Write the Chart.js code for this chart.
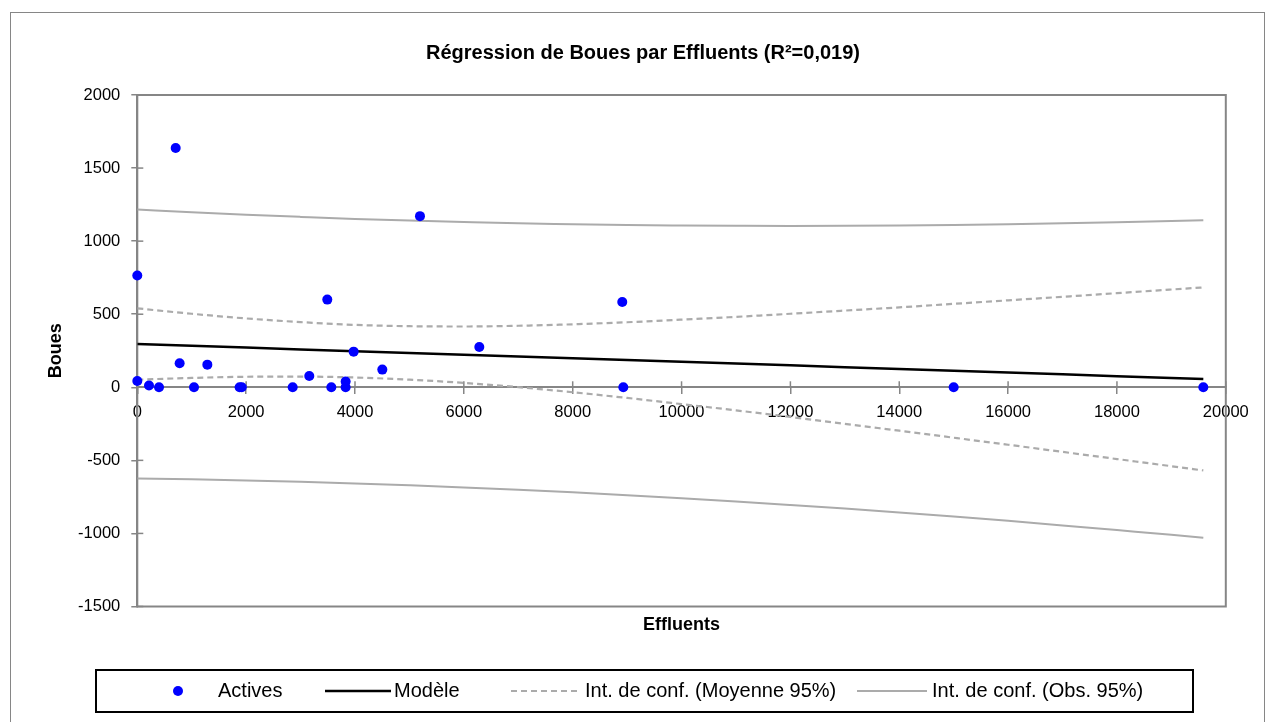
<!DOCTYPE html>
<html lang="fr">
<head>
<meta charset="utf-8">
<title>Régression de Boues par Effluents</title>
<script src="https://cdn.jsdelivr.net/npm/chart.js@4.4.1/dist/chart.umd.min.js"></script>
<style>
  html, body { margin: 0; padding: 0; background: #ffffff; }
  #wrap { position: relative; width: 1269px; height: 722px; }
</style>
</head>
<body>
<div id="wrap"><canvas id="chart"></canvas></div>
<script>
// Observations (Effluents, Boues)
const effluents = [0, 0, 215, 399, 705, 778, 1042, 1287, 1880, 1920, 2855, 3160, 3491, 3565, 3828, 3828, 3975, 4502, 5194, 6284, 8911, 8930, 15000, 19587];
const boues     = [765, 43, 12, 0, 1637, 164, 0, 155, 0, 0, 0, 77, 600, 0, 39, 0, 244, 121, 1171, 276, 584, 0, 0, 0];

// Fitted model and confidence bands, sampled along Effluents
const curveX  = [0, 1000, 2000, 3000, 4000, 5000, 6000, 7000, 8000, 9000, 10000, 11000, 12000, 13000, 14000, 15000, 16000, 17000, 18000, 19000, 19587];
const modele  = [296, 284, 272, 259, 247, 235, 223, 211, 198, 186, 174, 162, 150, 137, 125, 113, 101, 89, 76, 64, 57];
const moyHaut = [540, 503, 471, 446, 427, 418, 416, 421, 431, 445, 463, 482, 503, 525, 547, 571, 595, 619, 644, 669, 683];
const moyBas  = [52, 64, 72, 73, 67, 52, 30, 1, -34, -73, -115, -158, -203, -250, -297, -345, -393, -442, -491, -540, -569];
const obsHaut = [1216, 1198, 1181, 1166, 1152, 1141, 1131, 1122, 1116, 1110, 1107, 1105, 1104, 1105, 1107, 1111, 1116, 1122, 1129, 1138, 1143];
const obsBas  = [-624, -630, -638, -647, -658, -671, -685, -701, -719, -738, -759, -781, -805, -830, -857, -885, -914, -945, -977, -1009, -1029];

// Axis ticks
const xTickValues = [0, 2000, 4000, 6000, 8000, 10000, 12000, 14000, 16000, 18000, 20000];
const yTickValues = [-1500, -1000, -500, 0, 500, 1000, 1500, 2000];

const FONT = '"Liberation Sans", Arial, sans-serif';
const AXIS_GREY = '#868686';
const BAND_GREY = '#ababab';

const pairs = (xs, ys) => xs.map((x, i) => ({ x: x, y: ys[i] }));
const setTicks = values => scale => { scale.ticks = values.map(v => ({ value: v })); };
const plainNumber = v => String(v);

// Frame, plot-area border and inward halves of the cross tick marks
const axisDecor = {
  id: 'axisDecor',
  beforeDraw(chart) {
    const ctx = chart.ctx;
    ctx.save();
    ctx.strokeStyle = AXIS_GREY;
    ctx.lineWidth = 1;
    ctx.strokeRect(10.5, 12.5, 1254, 800);
    ctx.restore();
  },
  beforeDatasetsDraw(chart) {
    const { ctx, chartArea: a, scales } = chart;
    ctx.save();
    ctx.strokeStyle = AXIS_GREY;
    ctx.lineWidth = 2;
    ctx.strokeRect(a.left, a.top, a.right - a.left, a.bottom - a.top);
    ctx.lineWidth = 1.5;
    const y0 = scales.y.getPixelForValue(0);
    scales.xz.ticks.forEach(t => {
      const px = scales.xz.getPixelForValue(t.value);
      ctx.beginPath(); ctx.moveTo(px, y0); ctx.lineTo(px, y0 - 6); ctx.stroke();
    });
    const x0 = scales.x.getPixelForValue(0);
    scales.y.ticks.forEach(t => {
      const py = scales.y.getPixelForValue(t.value);
      ctx.beginPath(); ctx.moveTo(x0, py); ctx.lineTo(x0 + 6, py); ctx.stroke();
    });
    ctx.restore();
  }
};

// Boxed legend under the plot, styled from the datasets themselves
const boxLegend = {
  id: 'boxLegend',
  afterDraw(chart, args, opts) {
    const ctx = chart.ctx;
    const b = opts.box;
    ctx.save();
    ctx.strokeStyle = '#000000';
    ctx.lineWidth = 2;
    ctx.strokeRect(b.left, b.top, b.right - b.left, b.bottom - b.top);
    const cy = (b.top + b.bottom) / 2;
    opts.items.forEach(it => {
      const ds = chart.data.datasets[it.dataset];
      if (it.marker !== undefined) {
        ctx.fillStyle = ds.backgroundColor;
        ctx.beginPath();
        ctx.arc(it.marker, cy, ds.pointRadius, 0, Math.PI * 2);
        ctx.fill();
      } else {
        ctx.strokeStyle = ds.borderColor;
        ctx.lineWidth = ds.borderWidth;
        ctx.setLineDash(ds.borderDash || []);
        ctx.beginPath(); ctx.moveTo(it.from, cy); ctx.lineTo(it.to, cy); ctx.stroke();
        ctx.setLineDash([]);
      }
      ctx.fillStyle = '#000000';
      ctx.font = opts.font;
      ctx.textBaseline = 'middle';
      ctx.textAlign = 'left';
      ctx.fillText(ds.label, it.text, cy);
    });
    ctx.restore();
  }
};

new Chart(document.getElementById('chart'), {
  type: 'scatter',
  data: {
    datasets: [
      { label: 'Actives', data: pairs(effluents, boues), backgroundColor: '#0000ff', borderWidth: 0, pointRadius: 5, clip: false, order: 0 },
      { label: 'Modèle', data: pairs(curveX, modele), showLine: true, borderColor: '#000000', borderWidth: 2.5, pointRadius: 0, order: 1 },
      { label: 'Int. de conf. (Moyenne 95%)', data: pairs(curveX, moyHaut), showLine: true, borderColor: BAND_GREY, borderWidth: 2.2, borderDash: [6, 4], pointRadius: 0, cubicInterpolationMode: 'monotone', order: 2 },
      { label: 'Int. de conf. (Moyenne 95%)', data: pairs(curveX, moyBas), showLine: true, borderColor: BAND_GREY, borderWidth: 2.2, borderDash: [6, 4], pointRadius: 0, cubicInterpolationMode: 'monotone', order: 2 },
      { label: 'Int. de conf. (Obs. 95%)', data: pairs(curveX, obsHaut), showLine: true, borderColor: BAND_GREY, borderWidth: 2, pointRadius: 0, cubicInterpolationMode: 'monotone', order: 3 },
      { label: 'Int. de conf. (Obs. 95%)', data: pairs(curveX, obsBas), showLine: true, borderColor: BAND_GREY, borderWidth: 2, pointRadius: 0, cubicInterpolationMode: 'monotone', order: 3 }
    ]
  },
  options: {
    responsive: true,
    maintainAspectRatio: false,
    animation: false,
    events: [],
    layout: { padding: { left: 17, right: 0, top: 0, bottom: 75.5 } },
    scales: {
      x: {
        type: 'linear', position: 'bottom', min: 0, max: 20000,
        ticks: { display: false },
        grid: { display: false },
        border: { display: false },
        title: { display: true, text: 'Effluents', color: '#000000', font: { family: FONT, size: 18, weight: 'bold' }, padding: { top: 0, bottom: 10.7 } },
        afterFit: s => { s.height = 40; }
      },
      xz: {
        type: 'linear', axis: 'x', position: { y: 0 }, min: 0, max: 20000,
        afterBuildTicks: setTicks(xTickValues),
        ticks: { color: '#000000', font: { family: FONT, size: 16.5 }, padding: 9, maxRotation: 0, autoSkip: false, callback: plainNumber },
        grid: { drawOnChartArea: false, drawTicks: true, tickLength: 6, color: AXIS_GREY, lineWidth: 1.5 },
        border: { display: true, color: AXIS_GREY, width: 2 }
      },
      y: {
        type: 'linear', position: 'left', min: -1500, max: 2000,
        afterBuildTicks: setTicks(yTickValues),
        ticks: { color: '#000000', font: { family: FONT, size: 16.5 }, padding: 11, callback: plainNumber },
        grid: { drawOnChartArea: false, drawTicks: true, tickLength: 6, color: AXIS_GREY, lineWidth: 1.5 },
        border: { display: true, color: AXIS_GREY, width: 2 },
        title: { display: true, text: 'Boues', color: '#000000', font: { family: FONT, size: 18, weight: 'bold' }, padding: { top: 28.2, bottom: 0 } },
        afterFit: s => { s.width = 120.3; }
      },
      yr: {
        type: 'linear', position: 'right',
        ticks: { display: false },
        grid: { display: false },
        border: { display: false },
        afterFit: s => { s.width = 43.2; }
      }
    },
    plugins: {
      legend: { display: false },
      tooltip: { enabled: false },
      title: {
        display: true,
        text: 'Régression de Boues par Effluents (R²=0,019)',
        color: '#000000',
        font: { family: FONT, size: 20, weight: 'bold' },
        padding: { top: 41, bottom: 30 }
      },
      boxLegend: {
        box: { left: 96, top: 670, right: 1193, bottom: 712 },
        font: '20px ' + FONT,
        items: [
          { dataset: 0, marker: 178, text: 218 },
          { dataset: 1, from: 325, to: 391, text: 394 },
          { dataset: 2, from: 511, to: 580, text: 585 },
          { dataset: 4, from: 857, to: 927, text: 932 }
        ]
      }
    }
  },
  plugins: [axisDecor, boxLegend]
});
</script>
</body>
</html>
